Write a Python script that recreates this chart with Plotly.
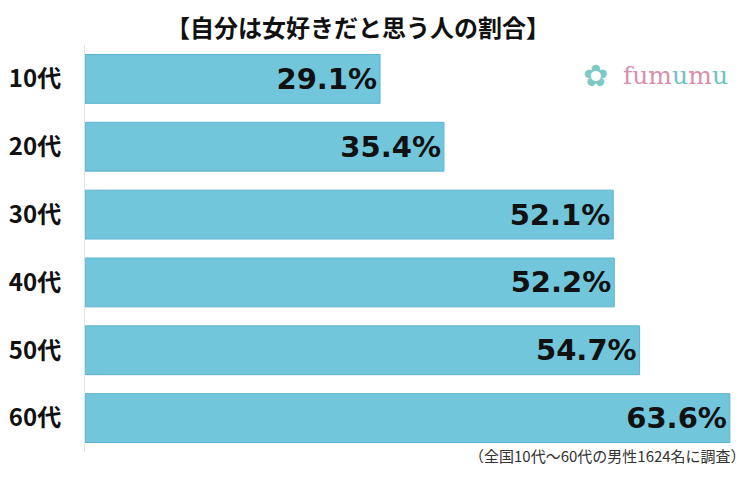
import plotly.graph_objects as go

categories = ["10代", "20代", "30代", "40代", "50代", "60代"]
values = [29.1, 35.4, 52.1, 52.2, 54.7, 63.6]
value_labels = ["29.1%", "35.4%", "52.1%", "52.2%", "54.7%", "63.6%"]
title_text = "【自分は女好きだと思う人の割合】"
note_text = "（全国10代～60代の男性1624名に調査）"

fig = go.Figure()
fig.add_trace(go.Bar(
    x=values, y=categories, orientation="h",
    marker=dict(color="#72C6DB", line=dict(color="#5DB3CF", width=1)),
    text=value_labels, textposition="inside", insidetextanchor="end",
    textfont=dict(family="DejaVu Sans", size=29, color="#111111", weight="bold"),
    cliponaxis=False, hoverinfo="skip",
))

fig.update_layout(
    width=741, height=477,
    margin=dict(l=77, r=9, t=37, b=33),
    plot_bgcolor="white", paper_bgcolor="white",
    showlegend=False, bargap=0.28,
    uniformtext=dict(mode=False),
    xaxis=dict(range=[0, 64.6], visible=False, automargin=False),
    yaxis=dict(autorange="reversed", showline=True, linecolor="#e3e3e3", linewidth=1,
               ticks="", ticklabelstandoff=18, automargin=False,
               tickfont=dict(family="Noto Sans CJK JP", size=24, color="#111111", weight="bold")),
    annotations=[
        dict(text=title_text, x=0.417, xref="paper", y=1.0, yref="paper", yanchor="middle", yshift=19,
             showarrow=False, borderpad=0,
             font=dict(family="Noto Sans CJK JP", size=24, color="#111111", weight="bold")),
        dict(text=note_text, xref="paper", yref="paper", x=1.0, y=0, xanchor="right", yanchor="middle",
             xshift=8, yshift=-3, showarrow=False,
             font=dict(family="Noto Sans CJK JP", size=15, color="#333333")),
        dict(text="<span style='color:#d98fb0'>fum</span><span style='color:#6cc3c0'>u</span><span style='color:#d98fb0'>m</span><span style='color:#6cc3c0'>u</span>",
             xref="paper", yref="paper", x=1.0, y=0.926, xanchor="right", yanchor="middle",
             xshift=-10, showarrow=False, font=dict(family="DejaVu Serif", size=25)),
        dict(text="✿", xref="paper", yref="paper", x=0.779, y=0.926, xanchor="center", yanchor="middle",
             showarrow=False, font=dict(family="DejaVu Sans", size=30, color="#7cc9c6")),
    ],
)
fig.write_html("out.html")
